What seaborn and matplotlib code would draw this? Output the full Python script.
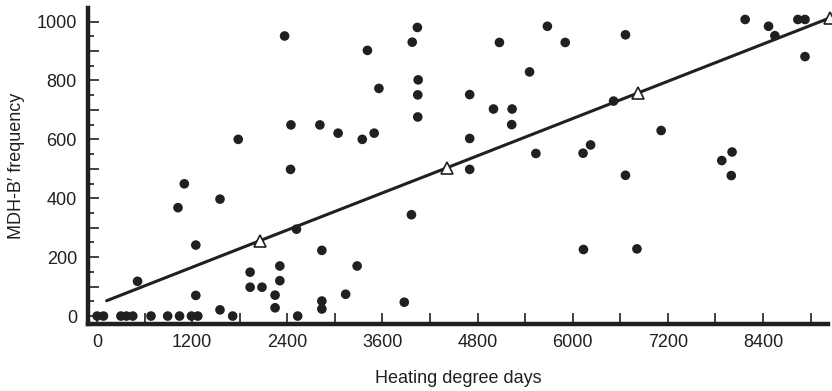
import matplotlib
matplotlib.use("Agg")
import matplotlib.pyplot as plt
from matplotlib.ticker import MultipleLocator, FuncFormatter
import seaborn as sns
import pandas as pd

# Heating degree days vs. MDH-B' allele frequency, one point per population
hdd = [0, 80, 300, 370, 450, 680, 890, 1040, 1190, 1270, 1710, 2530,
       510, 1020, 1100, 1245, 1245, 1550, 1550, 1780, 1930, 1930, 2080,
       2245, 2245, 2305, 2305, 2365, 2440, 2445, 2515, 2810, 2835, 2835,
       2835, 3040, 3135, 3280, 3345, 3410, 3495, 3555, 3875, 3965, 3975,
       4040, 4050, 4045, 4045, 4700, 4700, 4700, 5000, 5075, 5230, 5235,
       5455, 5535, 5680, 5905, 6130, 6135, 6225, 6515, 6665, 6665, 6810,
       7115, 7880, 8000, 8010, 8175, 8470, 8550, 8840, 8930, 8930]
freq = [0, 0, 0, 0, 0, 0, 0, 0, 0, 0, 0, 0,
        118, 368, 449, 241, 70, 397, 21, 600, 149, 98, 98,
        71, 28, 170, 120, 951, 498, 649, 295, 649, 223, 51,
        24, 621, 74, 170, 600, 902, 621, 773, 47, 344, 930,
        980, 802, 751, 676, 752, 603, 498, 703, 929, 650, 703,
        829, 552, 984, 929, 553, 226, 581, 730, 955, 478, 228,
        630, 528, 477, 557, 1007, 984, 952, 1007, 1007, 881]

# Least-squares line and its marked reference points
fit_x = [120, 2055, 4408, 6828, 9240]
fit_y = [52, 256, 503, 758, 1012]

ink = "#231f20"

sns.set_theme(style="ticks")
plt.rcParams["font.family"] = ["Liberation Sans", "DejaVu Sans"]

fig = plt.figure(figsize=(8.32, 3.91), dpi=100)
ax = fig.add_axes([88 / 832, 67 / 391, 740 / 832, 316 / 391])

df = pd.DataFrame({"hdd": hdd, "freq": freq})
sns.scatterplot(data=df, x="hdd", y="freq", ax=ax, color=ink, s=48,
                edgecolor="none", zorder=3, clip_on=False)

fit = pd.DataFrame({"hdd": fit_x, "freq": fit_y})
sns.lineplot(data=fit, x="hdd", y="freq", ax=ax, color=ink, lw=2.2,
             zorder=4, clip_on=False)
ax.plot(fit_x[1:], fit_y[1:], linestyle="none", marker="^", ms=8,
        mfc="white", mec=ink, mew=1.2, zorder=5, clip_on=False)

ax.set_xlim(-115, 9220)
ax.set_ylim(-27, 1046)

ax.xaxis.set_major_locator(MultipleLocator(600))
ax.yaxis.set_major_locator(MultipleLocator(100))
ax.yaxis.set_minor_locator(MultipleLocator(50))
ax.xaxis.set_major_formatter(FuncFormatter(lambda v, p: f"{int(v)}" if v % 1200 == 0 else ""))
ax.yaxis.set_major_formatter(FuncFormatter(lambda v, p: f"{int(v)}" if v % 200 == 0 else ""))

ax.tick_params(axis="x", which="major", direction="in", length=8, width=1.2,
               color=ink, labelsize=13, labelcolor=ink, pad=7)
ax.tick_params(axis="y", which="major", direction="in", length=8, width=1.2,
               color=ink, labelsize=13, labelcolor=ink, pad=8)
ax.tick_params(axis="y", which="minor", direction="in", length=4.5, width=1.2,
               color=ink)

for side in ("top", "right"):
    ax.spines[side].set_visible(False)
for side in ("left", "bottom"):
    ax.spines[side].set_linewidth(3.2)
    ax.spines[side].set_color(ink)

ax.set_xlabel("Heating degree days", fontsize=13, color=ink, labelpad=14)
ax.set_ylabel("MDH-B\u2032 frequency", fontsize=13, color=ink, labelpad=8)

fig.savefig("out.png", dpi=100)
